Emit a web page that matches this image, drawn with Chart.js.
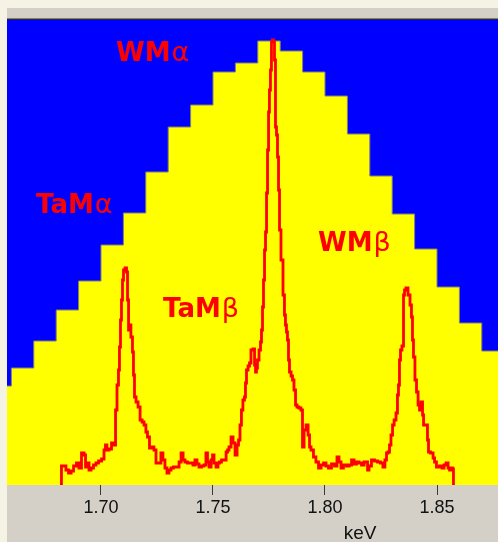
<!DOCTYPE html>
<html>
<head>
<meta charset="utf-8">
<script src="https://cdn.jsdelivr.net/npm/chart.js@4.4.1/dist/chart.umd.min.js"></script>
<style>
  html, body { margin: 0; padding: 0; background: #f5f3e4; overflow: hidden; }
  #panel { position: absolute; left: 7px; top: 8px; width: 491px; height: 534px; background: #d4d0c8; }
  canvas { display: block; }
</style>
</head>
<body>
<div id="panel"><canvas id="c" width="491" height="534"></canvas></div>
<script>
// ---- Data ----
// Histogram bins (0.01 keV wide), centres in keV and counts (arbitrary units)
const binCenters = [1.655, 1.665, 1.675, 1.685, 1.695, 1.705, 1.715, 1.725, 1.735, 1.745, 1.755, 1.765,
                    1.775, 1.785, 1.795, 1.805, 1.815, 1.825, 1.835, 1.845, 1.855, 1.865, 1.875];
const binCounts  = [99, 117, 144, 175, 204, 240, 272, 313, 358, 380, 413, 422,
                    444, 434, 413, 389, 351, 309, 271, 236, 198, 162, 134];

// High-resolution spectrum (red trace)
const specKeV = [1.6817,1.6821,1.6826,1.6839,1.6848,1.6862,1.6871,1.6884,1.6897,1.6906,1.6920,1.6929,1.6933,1.6942,1.6951,1.6960,1.6973,1.6982,1.6996,
  1.7009,1.7018,1.7022,1.7031,1.7040,1.7054,1.7063,1.7067,1.7076,1.7080,1.7085,1.7089,1.7094,1.7098,1.7103,1.7112,1.7116,1.7121,1.7125,1.7129,1.7138,1.7143,1.7147,1.7152,1.7161,1.7170,1.7179,1.7188,1.7196,
  1.7205,1.7210,1.7223,1.7232,1.7241,1.7250,1.7263,1.7272,1.7281,1.7290,1.7299,1.7308,1.7317,1.7330,1.7344,1.7353,1.7362,1.7371,1.7379,1.7393,
  1.7406,1.7415,1.7424,1.7433,1.7442,1.7455,1.7464,1.7473,1.7478,1.7487,1.7496,1.7500,1.7509,1.7518,1.7527,1.7531,1.7545,1.7554,1.7563,1.7567,1.7576,1.7585,1.7594,
  1.7603,1.7612,1.7616,1.7625,1.7629,1.7638,1.7643,1.7647,1.7652,1.7661,1.7665,1.7674,1.7683,1.7688,1.7692,1.7696,1.7701,1.7710,1.7714,1.7719,1.7723,1.7728,1.7732,1.7737,1.7741,1.7746,1.7750,1.7754,1.7759,1.7763,1.7768,1.7772,1.7777,1.7781,1.7786,1.7790,1.7795,1.7799,
  1.7808,1.7817,1.7821,1.7826,1.7830,1.7835,1.7839,1.7844,1.7853,1.7857,1.7866,1.7871,1.7879,1.7888,1.7897,1.7902,1.7911,1.7920,1.7929,1.7933,1.7942,1.7955,1.7964,1.7978,1.7987,
  1.8000,1.8009,1.8022,1.8036,1.8049,1.8058,1.8067,1.8076,1.8089,1.8103,1.8112,1.8125,1.8134,1.8147,1.8156,1.8170,1.8179,1.8188,1.8192,
  1.8201,1.8214,1.8228,1.8241,1.8254,1.8263,1.8272,1.8277,1.8286,1.8290,1.8299,1.8304,1.8313,1.8321,1.8326,1.8330,1.8335,1.8339,1.8348,1.8353,1.8357,1.8366,1.8375,1.8384,1.8388,1.8393,1.8397,
  1.8406,1.8411,1.8420,1.8424,1.8433,1.8438,1.8442,1.8455,1.8460,1.8464,1.8478,1.8487,1.8491,1.8504,1.8518,1.8527,1.8536,1.8545,1.8554,1.8558,1.8567,1.8571,1.8576];
const specCounts = [0,0,19,19,15,12,14,19,22,17,32,30,18,22,15,17,20,22,24,
  26,35,40,35,36,42,40,75,100,115,138,165,185,205,215,217,213,185,155,160,148,133,110,88,83,78,65,63,60,
  53,48,37,38,35,22,22,32,25,17,12,15,17,18,18,23,32,25,23,22,
  22,20,25,21,18,19,20,32,23,18,25,30,22,18,22,23,25,25,33,35,38,48,42,
  30,40,45,60,75,85,88,102,115,119,122,135,136,120,113,117,125,135,143,155,178,205,235,253,292,335,373,395,415,443,445,443,425,358,350,328,295,255,
  225,190,170,160,153,145,125,113,109,105,95,80,78,77,75,38,55,60,50,38,35,28,23,17,20,
  22,19,17,21,19,28,23,17,20,19,20,25,21,23,22,20,23,23,15,
  19,25,24,23,22,18,25,32,33,40,50,60,65,72,90,100,125,135,139,190,195,197,190,180,168,145,128,
  105,93,80,75,83,70,60,60,45,33,32,27,23,18,19,17,20,22,17,15,17,16,0];

const tickValues = [1.70, 1.75, 1.80, 1.85];
const tickLabels = ['1.70', '1.75', '1.80', '1.85'];
const axisTitle = 'keV';
const peakLabels = [
  { main: 'WM',  greek: 'α' },
  { main: 'TaM', greek: 'α' },
  { main: 'TaM', greek: 'β' },
  { main: 'WM',  greek: 'β' }
];

// ---- Build datasets ----
const binWidth = 0.01;
const histPoints = binCenters.map((c, i) => ({ x: c - binWidth / 2, y: binCounts[i] }));
histPoints.push({ x: binCenters[binCenters.length - 1] + binWidth / 2, y: binCounts[binCounts.length - 1] });
const specPoints = specKeV.map((k, i) => ({ x: k, y: specCounts[i] }));

// label placement (canvas px)
const labelPos = [[109, 53], [29, 205], [156, 309], [311, 243]];

const decor = {
  id: 'decor',
  beforeDatasetsDraw(chart) {
    const { ctx, chartArea: a } = chart;
    ctx.save();
    ctx.fillStyle = '#0000ff';
    ctx.fillRect(a.left, a.top, a.right - a.left, a.bottom - a.top);
    ctx.fillStyle = '#2a2a2a';
    ctx.fillRect(a.left, a.top - 1.5, a.right - a.left, 1.5);
    ctx.restore();
  },
  afterDraw(chart) {
    const { ctx } = chart;
    ctx.save();
    ctx.fillStyle = '#ff0000';
    ctx.textBaseline = 'alphabetic';
    peakLabels.forEach((l, i) => {
      const [x, y] = labelPos[i];
      ctx.font = 'bold 26px "DejaVu Sans"';
      ctx.fillText(l.main, x, y);
      const w = ctx.measureText(l.main).width;
      ctx.font = '27px "DejaVu Sans"';
      ctx.fillText(l.greek, x + w + 1, y);
    });
    ctx.fillStyle = '#111111';
    ctx.font = '19px "Liberation Sans"';
    ctx.textAlign = 'center';
    ctx.textBaseline = 'top';
    ctx.fillText(axisTitle, 353, 516);
    ctx.restore();
  }
};

new Chart(document.getElementById('c'), {
  type: 'line',
  data: {
    datasets: [
      {
        data: specPoints,
        borderColor: '#ff0000',
        borderWidth: 2.8,
        pointRadius: 0,
        stepped: 'middle',
        fill: false,
        order: 0
      },
      {
        data: histPoints,
        stepped: 'before',
        borderColor: '#808070',
        borderWidth: 1,
        backgroundColor: '#ffff00',
        pointRadius: 0,
        fill: 'origin',
        order: 1
      }
    ]
  },
  options: {
    responsive: false,
    animation: false,
    devicePixelRatio: 1,
    layout: { padding: { top: 12, left: 0, right: 0, bottom: 0 } },
    plugins: { legend: { display: false }, tooltip: { enabled: false } },
    scales: {
      x: {
        type: 'linear',
        min: 1.65804,
        max: 1.87723,
        afterBuildTicks(scale) { scale.ticks = tickValues.map(v => ({ value: v })); },
        afterFit(scale) { scale.height = 57; },
        ticks: {
          callback: (v) => { const i = tickValues.findIndex(t => Math.abs(t - v) < 1e-9); return i >= 0 ? tickLabels[i] : ''; },
          color: '#111111',
          font: { family: '"Liberation Sans"', size: 18 },
          padding: 2,
          maxRotation: 0,
          autoSkip: false
        },
        grid: { drawOnChartArea: false, drawTicks: true, tickLength: 10, color: '#3a3a3a', lineWidth: 1 },
        border: { display: false }
      },
      y: {
        display: false,
        min: 0,
        max: 465
      }
    }
  },
  plugins: [decor]
});
</script>
</body>
</html>
